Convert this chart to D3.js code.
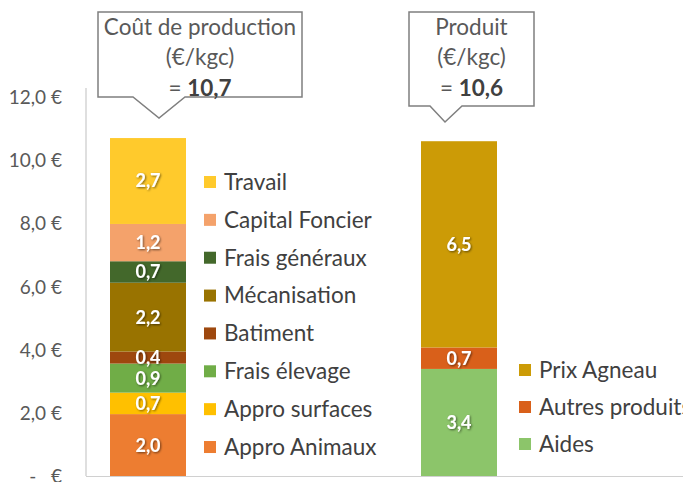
<!DOCTYPE html>
<html><head><meta charset="utf-8">
<script src="https://cdn.jsdelivr.net/npm/d3@7"></script>
<style>
html,body{margin:0;padding:0;background:#fff;}
text{font-family:Lato,"Open Sans",sans-serif;}
</style></head>
<body>
<svg id="chart" width="683" height="482"></svg>
<script>
const categories = ["Coût de production", "Produit"];
const costSeries = ["Appro Animaux","Appro surfaces","Frais élevage","Batiment","Mécanisation","Frais généraux","Capital Foncier","Travail"];
const costValues = [1.96, 0.68, 0.92, 0.38, 2.18, 0.68, 1.18, 2.72];
const productSeries = ["Aides","Autres produits","Prix Agneau"];
const productValues = [3.39, 0.68, 6.53];
const yTicks = [0, 2, 4, 6, 8, 10, 12];

const costColors = ["#ED7D31","#FFC000","#70AD47","#9E480E","#997300","#43682B","#F4A26B","#FFCA2C"];
const productColors = ["#8CC56A","#D9601A","#CC9B06"];

const loc = d3.formatLocale({decimal:",", thousands:" ", grouping:[3], currency:["","€"]});
const f1 = loc.format(".1f");

const svg = d3.select("#chart");
const defs = svg.append("defs");
const flt = defs.append("filter").attr("id","sh").attr("x","-20%").attr("y","-20%").attr("width","140%").attr("height","140%");
flt.append("feDropShadow").attr("dx",1).attr("dy",1).attr("stdDeviation",0.8).attr("flood-color","#000").attr("flood-opacity",0.55);

const y = d3.scaleLinear().domain([0,12]).range([476,97]);
const x = d3.scalePoint().domain(categories).range([148,459]);
const barW = 76;

// axis
const axis = d3.axisLeft(y).tickValues(yTicks).tickSize(0).tickPadding(0)
  .tickFormat(d => d === 0 ? "-   €" : f1(d) + " €");
const gA = svg.append("g").attr("transform","translate(62,0)").call(axis);
gA.select(".domain").remove();
gA.selectAll("text").attr("fill","#595959").style("font-size","19px").style("white-space","pre").attr("dy","0.35em");
svg.append("line").attr("x1",86).attr("x2",86).attr("y1",88).attr("y2",y(0)).attr("stroke","#BFBFBF").attr("stroke-width",1);
svg.append("line").attr("x1",86).attr("x2",683).attr("y1",y(0)+0.5).attr("y2",y(0)+0.5).attr("stroke","#D0D0D0").attr("stroke-width",1);

function stackBar(cat, names, vals, colors) {
  let acc = 0;
  const segs = vals.map((v,i) => { const s = {name:names[i], v, y0:acc, y1:acc+v, c:colors[i]}; acc += v; return s; });
  const g = svg.append("g");
  g.selectAll("rect").data(segs).join("rect")
    .attr("x", x(cat) - barW/2).attr("width", barW)
    .attr("y", d => y(d.y1)).attr("height", d => y(d.y0) - y(d.y1))
    .attr("fill", d => d.c);
  g.selectAll("text").data(segs).join("text")
    .attr("x", x(cat)).attr("y", d => y((d.y0+d.y1)/2)).attr("dy","0.36em")
    .attr("text-anchor","middle").attr("fill","#fff").attr("font-weight","bold")
    .style("font-size","18px").attr("filter","url(#sh)")
    .text(d => f1(d.v));
  return acc;
}
const costTotal = stackBar(categories[0], costSeries, costValues, costColors);
const prodTotal = stackBar(categories[1], productSeries, productValues, productColors);

// legends
function legend(names, colors, x0, yTop, step) {
  const items = names.map((n,i)=>({n, c:colors[i]})).reverse();
  const g = svg.append("g");
  const it = g.selectAll("g").data(items).join("g")
    .attr("transform", (d,i) => `translate(${x0},${yTop + i*step})`);
  it.append("rect").attr("x",0).attr("y",-6).attr("width",12).attr("height",12).attr("fill", d=>d.c);
  it.append("text").attr("x",20).attr("y",0).attr("dy","0.35em").attr("fill","#404040")
    .style("font-size","22.5px").text(d=>d.n);
}
legend(costSeries, costColors, 204, 182, 37.86);
legend(productSeries, productColors, 519, 370, 37);

// callouts
function callout(x0, x1, yT, yB, tx0, tx, tx1, ty, lines, total) {
  const p = `M${x0},${yT} L${x1},${yT} L${x1},${yB} L${tx1},${yB} L${tx},${ty} L${tx0},${yB} L${x0},${yB} Z`;
  svg.append("path").attr("d",p).attr("fill","#fff").attr("stroke","#7F7F7F").attr("stroke-width",1.5);
  const cx = (x0+x1)/2;
  lines.forEach((l,i)=>{
    svg.append("text").attr("x",cx).attr("y",27 + i*30).attr("dy","0.35em").attr("text-anchor","middle")
      .attr("fill","#595959").style("font-size","22.5px").text(l);
  });
  const t = svg.append("text").attr("x",cx).attr("y",88).attr("dy","0.35em").attr("text-anchor","middle")
    .attr("fill","#595959").style("font-size","22.5px");
  t.append("tspan").text("= ");
  t.append("tspan").attr("font-weight","bold").attr("fill","#404040").text(f1(total));
}
callout(98, 302, 12, 97, 133, 159, 185, 118, ["Coût de production","(€/kgc)"], costTotal);
callout(409, 534, 12, 106, 430, 445, 462, 122, ["Produit","(€/kgc)"], prodTotal);
</script>
</body></html>
